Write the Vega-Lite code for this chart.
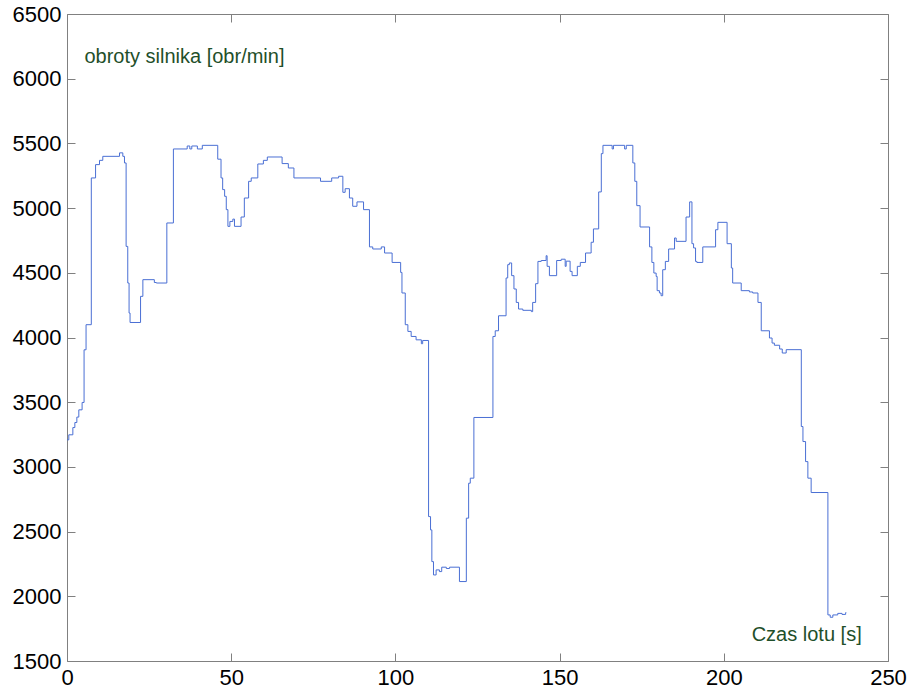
{
  "$schema": "https://vega.github.io/schema/vega-lite/v6.json",
  "autosize": "none",
  "width": 821,
  "height": 647,
  "padding": {"left": 67, "top": 14, "right": 27, "bottom": 38},
  "background": "white",
  "config": {
    "view": {"stroke": "#808080", "strokeWidth": 1},
    "axis": {"grid": false, "domain": false, "tickColor": "#808080", "labelFont": "Liberation Sans", "labelFontSize": 22, "labelColor": "#000000", "tickSize": -8, "labelFlush": false, "labelOverlap": false, "format": "d"}
  },
  "datasets": {
    "rpm": [
      {"t": 0, "v": 3209}, {"t": 0.55, "v": 3248}, {"t": 1.78, "v": 3304}, {"t": 2.39, "v": 3343}, {"t": 3.0, "v": 3385}, {"t": 3.6, "v": 3441}, {"t": 4.6, "v": 3498}, {"t": 5.2, "v": 3905}, {"t": 5.8, "v": 4099}, {"t": 7.4, "v": 5233}, {"t": 8.7, "v": 5336}, {"t": 9.9, "v": 5369}, {"t": 10.9, "v": 5400}, {"t": 16.0, "v": 5427}, {"t": 17.0, "v": 5400}, {"t": 17.5, "v": 5349}, {"t": 18.0, "v": 4704}, {"t": 18.5, "v": 4421}, {"t": 18.9, "v": 4189}, {"t": 19.2, "v": 4116}, {"t": 22.4, "v": 4318}, {"t": 23.1, "v": 4447}, {"t": 26.6, "v": 4425}, {"t": 27.2, "v": 4421}, {"t": 30.4, "v": 4885}, {"t": 32.4, "v": 5457}, {"t": 36.6, "v": 5480}, {"t": 37.4, "v": 5457}, {"t": 38.0, "v": 5480}, {"t": 39.7, "v": 5457}, {"t": 41.2, "v": 5485}, {"t": 45.9, "v": 5378}, {"t": 46.9, "v": 5233}, {"t": 47.4, "v": 5143}, {"t": 48.0, "v": 5091}, {"t": 48.5, "v": 4988}, {"t": 49.0, "v": 4859}, {"t": 49.6, "v": 4897}, {"t": 50.5, "v": 4915}, {"t": 51.0, "v": 4859}, {"t": 53.0, "v": 4931}, {"t": 54.0, "v": 5078}, {"t": 55.3, "v": 5207}, {"t": 56.1, "v": 5233}, {"t": 58.1, "v": 5341}, {"t": 59.8, "v": 5369}, {"t": 61.0, "v": 5395}, {"t": 65.5, "v": 5344}, {"t": 67.4, "v": 5310}, {"t": 69.1, "v": 5233}, {"t": 77.2, "v": 5207}, {"t": 80.6, "v": 5233}, {"t": 82.7, "v": 5246}, {"t": 84.0, "v": 5122}, {"t": 84.7, "v": 5150}, {"t": 86.0, "v": 5078}, {"t": 87.0, "v": 5014}, {"t": 88.3, "v": 5048}, {"t": 90.3, "v": 4988}, {"t": 92.1, "v": 4700}, {"t": 93.1, "v": 4684}, {"t": 95.7, "v": 4700}, {"t": 96.7, "v": 4653}, {"t": 99.0, "v": 4580}, {"t": 101.6, "v": 4503}, {"t": 102.0, "v": 4344}, {"t": 103.0, "v": 4099}, {"t": 103.8, "v": 4047}, {"t": 104.8, "v": 4008}, {"t": 106.3, "v": 3982}, {"t": 107.9, "v": 3952}, {"t": 108.3, "v": 3977}, {"t": 110.1, "v": 2616}, {"t": 110.7, "v": 2513}, {"t": 111.1, "v": 2268}, {"t": 111.6, "v": 2165}, {"t": 112.4, "v": 2204}, {"t": 113.4, "v": 2191}, {"t": 114.1, "v": 2225}, {"t": 115.5, "v": 2215}, {"t": 116.5, "v": 2225}, {"t": 119.5, "v": 2114}, {"t": 121.6, "v": 2604}, {"t": 122.3, "v": 2874}, {"t": 122.8, "v": 2913}, {"t": 123.9, "v": 3382}, {"t": 129.7, "v": 4008}, {"t": 130.4, "v": 4052}, {"t": 131.4, "v": 4168}, {"t": 133.7, "v": 4460}, {"t": 134.2, "v": 4563}, {"t": 134.7, "v": 4576}, {"t": 135.4, "v": 4478}, {"t": 136.1, "v": 4375}, {"t": 136.8, "v": 4271}, {"t": 137.5, "v": 4220}, {"t": 138.8, "v": 4210}, {"t": 141.4, "v": 4200}, {"t": 141.8, "v": 4271}, {"t": 142.7, "v": 4416}, {"t": 143.4, "v": 4588}, {"t": 144.4, "v": 4595}, {"t": 145.9, "v": 4632}, {"t": 146.2, "v": 4550}, {"t": 146.9, "v": 4478}, {"t": 149.1, "v": 4595}, {"t": 150.5, "v": 4605}, {"t": 151.7, "v": 4550}, {"t": 152.0, "v": 4590}, {"t": 153.2, "v": 4511}, {"t": 153.8, "v": 4478}, {"t": 155.4, "v": 4550}, {"t": 156.3, "v": 4580}, {"t": 157.9, "v": 4653}, {"t": 159.6, "v": 4736}, {"t": 160.3, "v": 4839}, {"t": 161.9, "v": 5125}, {"t": 162.7, "v": 5421}, {"t": 163.2, "v": 5485}, {"t": 166.0, "v": 5457}, {"t": 166.4, "v": 5485}, {"t": 169.8, "v": 5457}, {"t": 170.3, "v": 5485}, {"t": 172.3, "v": 5349}, {"t": 172.9, "v": 5207}, {"t": 173.5, "v": 5019}, {"t": 174.5, "v": 4854}, {"t": 177.4, "v": 4700}, {"t": 178.1, "v": 4580}, {"t": 178.7, "v": 4498}, {"t": 179.4, "v": 4472}, {"t": 179.7, "v": 4362}, {"t": 180.4, "v": 4344}, {"t": 180.9, "v": 4323}, {"t": 181.4, "v": 4524}, {"t": 182.2, "v": 4588}, {"t": 183.2, "v": 4684}, {"t": 185.0, "v": 4769}, {"t": 185.5, "v": 4743}, {"t": 188.5, "v": 4931}, {"t": 189.6, "v": 5048}, {"t": 190.3, "v": 4725}, {"t": 190.8, "v": 4692}, {"t": 191.4, "v": 4588}, {"t": 191.8, "v": 4580}, {"t": 193.6, "v": 4700}, {"t": 197.5, "v": 4833}, {"t": 198.2, "v": 4890}, {"t": 201.0, "v": 4725}, {"t": 202.3, "v": 4537}, {"t": 202.7, "v": 4421}, {"t": 205.3, "v": 4362}, {"t": 207.8, "v": 4352}, {"t": 208.8, "v": 4344}, {"t": 210.4, "v": 4271}, {"t": 211.4, "v": 4052}, {"t": 213.9, "v": 3996}, {"t": 214.7, "v": 3957}, {"t": 215.4, "v": 3940}, {"t": 217.0, "v": 3911}, {"t": 217.8, "v": 3880}, {"t": 219.0, "v": 3906}, {"t": 223.6, "v": 3312}, {"t": 224.1, "v": 3196}, {"t": 224.9, "v": 3041}, {"t": 225.6, "v": 2913}, {"t": 226.6, "v": 2802}, {"t": 231.7, "v": 1856}, {"t": 232.4, "v": 1838}, {"t": 233.2, "v": 1856}, {"t": 234.7, "v": 1868}, {"t": 236.0, "v": 1860}, {"t": 237.1, "v": 1874}, {"t": 237.3, "v": 1874}
    ],
    "labelL": [{"t": 5.3, "v": 6164, "txt": "obroty silnika [obr/min]"}],
    "labelR": [{"t": 242.0, "v": 1700, "txt": "Czas lotu [s]"}]
  },
  "layer": [
    {
      "data": {"name": "rpm"},
      "mark": {"type": "line", "interpolate": "step-after", "color": "#4a6fd4", "strokeWidth": 1},
      "encoding": {
        "x": {"field": "t", "type": "quantitative", "scale": {"domain": [0, 250], "nice": false, "zero": false}, "axis": {"orient": "bottom", "title": null, "values": [0, 50, 100, 150, 200, 250], "labelPadding": 14}},
        "y": {"field": "v", "type": "quantitative", "scale": {"domain": [1500, 6500], "nice": false, "zero": false}, "axis": {"orient": "left", "title": null, "values": [1500, 2000, 2500, 3000, 3500, 4000, 4500, 5000, 5500, 6000, 6500], "labelPadding": 14}}
      }
    },
    {
      "data": {"name": "labelL"},
      "mark": {"type": "text", "font": "Liberation Sans", "fontSize": 20, "color": "#1f4f2a", "baseline": "middle", "align": "left"},
      "encoding": {
        "x": {"field": "t", "type": "quantitative", "axis": {"orient": "top", "title": null, "labels": false, "values": [0, 50, 100, 150, 200, 250]}},
        "y": {"field": "v", "type": "quantitative", "axis": {"orient": "right", "title": null, "labels": false, "values": [1500, 2000, 2500, 3000, 3500, 4000, 4500, 5000, 5500, 6000, 6500]}},
        "text": {"field": "txt"}
      }
    },
    {
      "data": {"name": "labelR"},
      "mark": {"type": "text", "font": "Liberation Sans", "fontSize": 20, "color": "#1f4f2a", "baseline": "middle", "align": "right"},
      "encoding": {
        "x": {"field": "t", "type": "quantitative", "axis": null},
        "y": {"field": "v", "type": "quantitative", "axis": null},
        "text": {"field": "txt"}
      }
    }
  ],
  "resolve": {"axis": {"x": "independent", "y": "independent"}}
}
